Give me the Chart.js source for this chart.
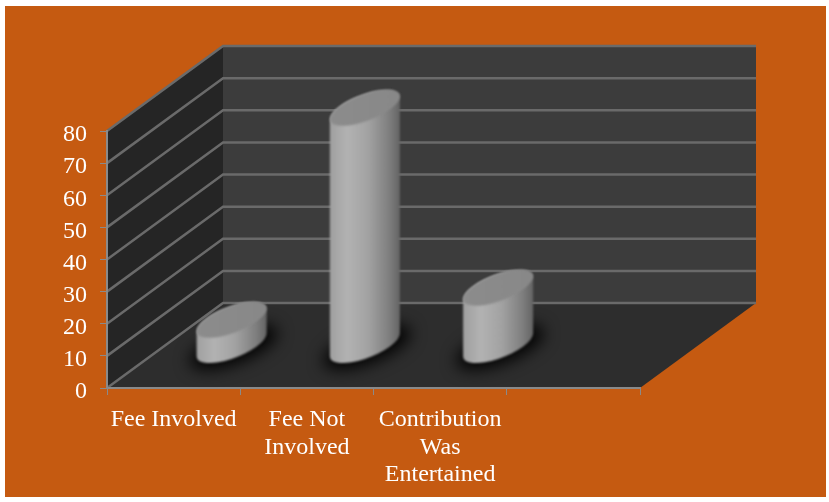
<!DOCTYPE html>
<html>
<head>
<meta charset="utf-8">
<title>Chart</title>
<script src="https://cdn.jsdelivr.net/npm/chart.js@4/dist/chart.umd.min.js"></script>
<style>
  html, body { margin: 0; padding: 0; background: #fff; }
  canvas { display: block; }
</style>
</head>
<body>
<canvas id="feeChart" width="829" height="502"></canvas>
<script>
const categories = [
  "Fee Involved",
  ["Fee Not", "Involved"],
  ["Contribution", "Was", "Entertained"],
  "",
];
const values = [8, 74, 18, null];
const yTicks = [0, 10, 20, 30, 40, 50, 60, 70, 80];

const orange = "#c55a11";
const axisGrey = "#8a8a8a";
const gridGrey = "#6a6a6a";
const depthX = 116;
const depthY = -85;

// walls and floor of the 3d box, drawn behind the axes
const boxPlugin = {
  id: "box",
  beforeDraw(chart) {
    const { ctx, chartArea, scales } = chart;
    const { left, right, top, bottom } = chartArea;

    ctx.save();
    ctx.fillStyle = orange;
    ctx.fillRect(5, 6, 821, 491);

    polygon(ctx, "#252525", [
      [left, top],
      [left + depthX, top + depthY],
      [left + depthX, bottom + depthY],
      [left, bottom],
    ]);
    polygon(ctx, "#2d2d2d", [
      [left, bottom],
      [right, bottom],
      [right + depthX, bottom + depthY],
      [left + depthX, bottom + depthY],
    ]);
    polygon(ctx, "#3c3c3c", [
      [left + depthX, top + depthY],
      [right + depthX, top + depthY],
      [right + depthX, bottom + depthY],
      [left + depthX, bottom + depthY],
    ]);

    // gridlines run along the side wall then the back wall
    ctx.filter = "blur(0.6px)";
    ctx.strokeStyle = gridGrey;
    ctx.lineWidth = 2.5;
    yTicks.forEach((tick) => {
      const y = scales.y.getPixelForValue(tick);
      ctx.beginPath();
      ctx.moveTo(left, y);
      ctx.lineTo(left + depthX, y + depthY);
      ctx.lineTo(right + depthX, y + depthY);
      ctx.stroke();
    });
    ctx.restore();
  },
  afterDatasetsDraw(chart) {
    const meta = chart.getDatasetMeta(0);
    meta.data.forEach((bar, i) => {
      if (values[i] === null) return;
      drawCylinder(chart.ctx, bar.x + depthX / 2, bar.y + depthY / 2, bar.base + depthY / 2);
    });
  },
};

function polygon(ctx, color, points) {
  ctx.fillStyle = color;
  ctx.beginPath();
  points.forEach((p, i) => (i ? ctx.lineTo(p[0], p[1]) : ctx.moveTo(p[0], p[1])));
  ctx.closePath();
  ctx.fill();
}

// a floor circle seen in the skewed projection
function ellipsePath(ctx, cx, cy, scale, start, end) {
  const rx = 27 * scale;
  const vx = 22.3 * scale;
  const vy = -18 * scale;
  ctx.save();
  ctx.transform(rx, 0, vx, vy, cx, cy);
  ctx.arc(0, 0, 1, start, end);
  ctx.restore();
}

function drawCylinder(ctx, cx, topY, baseY) {
  // x extremes of the skewed circle
  const tRight = Math.atan2(22.3, 27);
  const tLeft = tRight + Math.PI;

  // soft shadow on the floor
  ctx.save();
  ctx.filter = "blur(8px)";
  ctx.fillStyle = "rgba(0,0,0,0.95)";
  ctx.beginPath();
  ellipsePath(ctx, cx + 2, baseY + 2, 1.25, 0, Math.PI * 2);
  ctx.fill();
  ctx.restore();

  const body = ctx.createLinearGradient(cx - 35, 0, cx + 35, 0);
  body.addColorStop(0, "#a0a0a0");
  body.addColorStop(0.25, "#b2b2b2");
  body.addColorStop(0.55, "#a2a2a2");
  body.addColorStop(0.85, "#7e7e7e");
  body.addColorStop(1, "#646464");

  // body: top arc between the extremes, then the near half of the base
  ctx.save();
  ctx.filter = "blur(0.8px)";
  ctx.fillStyle = body;
  ctx.beginPath();
  ellipsePath(ctx, cx, topY, 1, tRight, tLeft);
  ellipsePath(ctx, cx, baseY, 1, tLeft, tRight + Math.PI * 2, false);
  ctx.closePath();
  ctx.fill();

  const cap = ctx.createLinearGradient(cx - 35, 0, cx + 35, 0);
  cap.addColorStop(0, "#8c8c8c");
  cap.addColorStop(1, "#888888");
  ctx.fillStyle = cap;
  ctx.beginPath();
  ellipsePath(ctx, cx, topY, 1, 0, Math.PI * 2);
  ctx.fill();
  ctx.restore();
}

new Chart(document.getElementById("feeChart"), {
  type: "bar",
  data: {
    labels: categories,
    datasets: [
      {
        data: values,
        backgroundColor: "rgba(0,0,0,0)",
        borderWidth: 0,
      },
    ],
  },
  options: {
    responsive: false,
    animation: false,
    layout: {
      padding: { top: 131, right: 189, left: 0, bottom: 0 },
    },
    plugins: {
      legend: { display: false },
      tooltip: { enabled: false },
    },
    scales: {
      x: {
        grid: {
          drawOnChartArea: false,
          drawTicks: true,
          tickLength: 7,
          color: axisGrey,
        },
        border: { color: axisGrey, width: 2 },
        ticks: {
          color: "#ffffff",
          maxRotation: 0,
          autoSkip: false,
          padding: 11,
          font: { family: "'Liberation Serif'", size: 24, lineHeight: 1.15 },
        },
        afterFit(scale) {
          scale.height = 114;
        },
      },
      y: {
        min: 0,
        max: 80,
        ticks: {
          stepSize: 10,
          color: "#ffffff",
          padding: 13,
          labelOffset: 4,
          font: { family: "'Liberation Serif'", size: 24 },
        },
        grid: {
          drawOnChartArea: false,
          tickLength: 7,
          color: axisGrey,
        },
        border: { color: axisGrey, width: 2 },
        afterFit(scale) {
          scale.width = 107;
        },
      },
    },
  },
  plugins: [boxPlugin],
});
</script>
</body>
</html>
